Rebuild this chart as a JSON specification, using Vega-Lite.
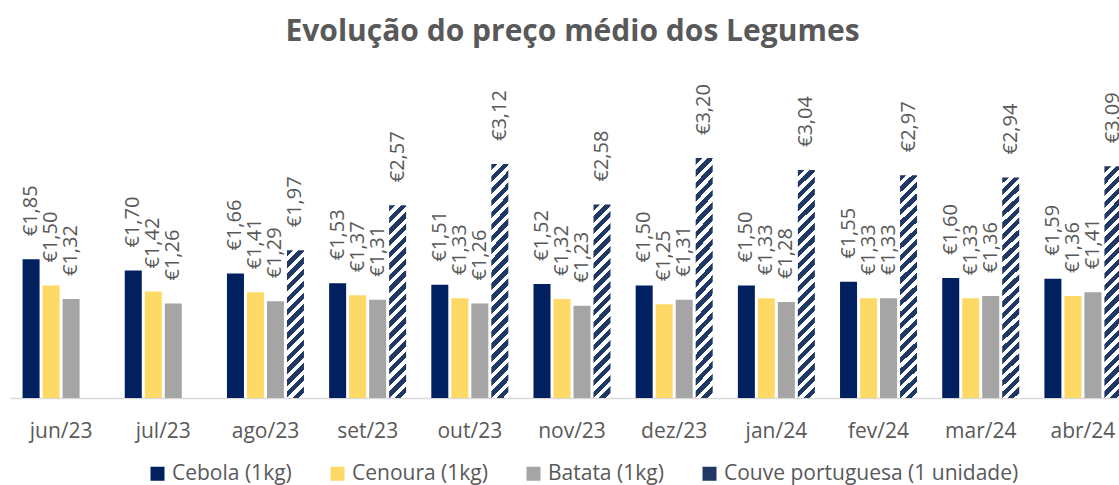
{
  "$schema": "https://vega.github.io/schema/vega-lite/v6.json",
  "autosize": "none",
  "width": 1109,
  "height": 330,
  "padding": {"left": 10, "top": 68, "right": 0, "bottom": 87},
  "title": {
    "text": "Evolução do preço médio dos Legumes",
    "fontSize": 30,
    "fontWeight": "bold",
    "color": "#595959",
    "font": "Open Sans",
    "anchor": "middle",
    "frame": "group",
    "baseline": "alphabetic",
    "offset": -3,
    "dx": 8
  },
  "config": {
    "view": {"stroke": null},
    "font": "Open Sans",
    "locale": {
      "number": {"decimal": ",", "thousands": ".", "grouping": [3], "currency": ["€", ""]}
    }
  },
  "data": {
    "values": [
      {"mes": "jun/23", "produto": "Cebola (1kg)", "preco": 1.85},
      {"mes": "jun/23", "produto": "Cenoura (1kg)", "preco": 1.50},
      {"mes": "jun/23", "produto": "Batata (1kg)", "preco": 1.32},
      {"mes": "jul/23", "produto": "Cebola (1kg)", "preco": 1.70},
      {"mes": "jul/23", "produto": "Cenoura (1kg)", "preco": 1.42},
      {"mes": "jul/23", "produto": "Batata (1kg)", "preco": 1.26},
      {"mes": "ago/23", "produto": "Cebola (1kg)", "preco": 1.66},
      {"mes": "ago/23", "produto": "Cenoura (1kg)", "preco": 1.41},
      {"mes": "ago/23", "produto": "Batata (1kg)", "preco": 1.29},
      {"mes": "ago/23", "produto": "Couve portuguesa (1 unidade)", "preco": 1.97},
      {"mes": "set/23", "produto": "Cebola (1kg)", "preco": 1.53},
      {"mes": "set/23", "produto": "Cenoura (1kg)", "preco": 1.37},
      {"mes": "set/23", "produto": "Batata (1kg)", "preco": 1.31},
      {"mes": "set/23", "produto": "Couve portuguesa (1 unidade)", "preco": 2.57},
      {"mes": "out/23", "produto": "Cebola (1kg)", "preco": 1.51},
      {"mes": "out/23", "produto": "Cenoura (1kg)", "preco": 1.33},
      {"mes": "out/23", "produto": "Batata (1kg)", "preco": 1.26},
      {"mes": "out/23", "produto": "Couve portuguesa (1 unidade)", "preco": 3.12},
      {"mes": "nov/23", "produto": "Cebola (1kg)", "preco": 1.52},
      {"mes": "nov/23", "produto": "Cenoura (1kg)", "preco": 1.32},
      {"mes": "nov/23", "produto": "Batata (1kg)", "preco": 1.23},
      {"mes": "nov/23", "produto": "Couve portuguesa (1 unidade)", "preco": 2.58},
      {"mes": "dez/23", "produto": "Cebola (1kg)", "preco": 1.50},
      {"mes": "dez/23", "produto": "Cenoura (1kg)", "preco": 1.25},
      {"mes": "dez/23", "produto": "Batata (1kg)", "preco": 1.31},
      {"mes": "dez/23", "produto": "Couve portuguesa (1 unidade)", "preco": 3.20},
      {"mes": "jan/24", "produto": "Cebola (1kg)", "preco": 1.50},
      {"mes": "jan/24", "produto": "Cenoura (1kg)", "preco": 1.33},
      {"mes": "jan/24", "produto": "Batata (1kg)", "preco": 1.28},
      {"mes": "jan/24", "produto": "Couve portuguesa (1 unidade)", "preco": 3.04},
      {"mes": "fev/24", "produto": "Cebola (1kg)", "preco": 1.55},
      {"mes": "fev/24", "produto": "Cenoura (1kg)", "preco": 1.33},
      {"mes": "fev/24", "produto": "Batata (1kg)", "preco": 1.33},
      {"mes": "fev/24", "produto": "Couve portuguesa (1 unidade)", "preco": 2.97},
      {"mes": "mar/24", "produto": "Cebola (1kg)", "preco": 1.60},
      {"mes": "mar/24", "produto": "Cenoura (1kg)", "preco": 1.33},
      {"mes": "mar/24", "produto": "Batata (1kg)", "preco": 1.36},
      {"mes": "mar/24", "produto": "Couve portuguesa (1 unidade)", "preco": 2.94},
      {"mes": "abr/24", "produto": "Cebola (1kg)", "preco": 1.59},
      {"mes": "abr/24", "produto": "Cenoura (1kg)", "preco": 1.36},
      {"mes": "abr/24", "produto": "Batata (1kg)", "preco": 1.41},
      {"mes": "abr/24", "produto": "Couve portuguesa (1 unidade)", "preco": 3.09}
    ]
  },
  "encoding": {
    "x": {
      "field": "mes",
      "type": "nominal",
      "sort": null,
      "scale": {"range": [0, 1124], "paddingInner": 0.217, "paddingOuter": 0.1085},
      "axis": {
        "title": null,
        "labelAngle": 0,
        "ticks": false,
        "domainColor": "#D9D9D9",
        "domainWidth": 1.5,
        "labelFontSize": 21,
        "labelColor": "#595959",
        "labelFont": "Open Sans",
        "labelPadding": 22
      }
    },
    "xOffset": {
      "field": "produto",
      "type": "nominal",
      "sort": ["Cebola (1kg)", "Cenoura (1kg)", "Batata (1kg)", "Couve portuguesa (1 unidade)"],
      "scale": {"paddingInner": 0.15, "paddingOuter": 0.075}
    },
    "y": {
      "field": "preco",
      "type": "quantitative",
      "scale": {"domain": [0, 4.4], "nice": false, "zero": true},
      "axis": null
    }
  },
  "layer": [
    {
      "mark": {"type": "bar"},
      "encoding": {
        "fill": {
          "field": "produto",
          "type": "nominal",
          "sort": ["Cebola (1kg)", "Cenoura (1kg)", "Batata (1kg)", "Couve portuguesa (1 unidade)"],
          "scale": {
            "domain": ["Cebola (1kg)", "Cenoura (1kg)", "Batata (1kg)", "Couve portuguesa (1 unidade)"],
            "range": ["#002060", "#FFD966", "#A5A5A5", "#1F3864"]
          },
          "legend": {
            "title": null,
            "orient": "none",
            "legendX": 137,
            "legendY": 395,
            "direction": "horizontal",
            "columns": 4,
            "columnPadding": 35,
            "symbolType": "square",
            "symbolSize": 196,
            "symbolStrokeWidth": 0,
            "labelOffset": 4,
            "labelFontSize": 21,
            "labelFont": "Open Sans",
            "labelColor": "#595959",
            "labelLimit": 500,
            "encode": {
              "symbols": {
                "update": {
                  "fill": {"signal": "datum.value === 'Couve portuguesa (1 unidade)' ? {gradient: 'linear', x1: 0, y1: 0, x2: 1, y2: 1, stops: [{offset: 0, color: '#ffffff'}, {offset: 0.15, color: '#ffffff'}, {offset: 0.15, color: '#1F3864'}, {offset: 0.4, color: '#1F3864'}, {offset: 0.4, color: '#ffffff'}, {offset: 0.6, color: '#ffffff'}, {offset: 0.6, color: '#1F3864'}, {offset: 0.85, color: '#1F3864'}, {offset: 0.85, color: '#ffffff'}, {offset: 1, color: '#ffffff'}]} : scale('fill', datum.value)"}
                }
              }
            }
          },
          "condition": [
            {
              "test": "datum.produto == 'Couve portuguesa (1 unidade)' && datum.mes == 'ago/23'",
              "value": {
                "gradient": "linear", "x1": 0, "y1": 0, "x2": 0.1264, "y2": 1.1,
                "stops": [
                  {"offset": 0, "color": "#1F3864"}, {"offset": 0.0393, "color": "#1F3864"}, {"offset": 0.0393, "color": "#ffffff"}, {"offset": 0.0714, "color": "#ffffff"},
                  {"offset": 0.0714, "color": "#1F3864"}, {"offset": 0.1107, "color": "#1F3864"}, {"offset": 0.1107, "color": "#ffffff"}, {"offset": 0.1429, "color": "#ffffff"},
                  {"offset": 0.1429, "color": "#1F3864"}, {"offset": 0.1821, "color": "#1F3864"}, {"offset": 0.1821, "color": "#ffffff"}, {"offset": 0.2143, "color": "#ffffff"},
                  {"offset": 0.2143, "color": "#1F3864"}, {"offset": 0.2536, "color": "#1F3864"}, {"offset": 0.2536, "color": "#ffffff"}, {"offset": 0.2857, "color": "#ffffff"},
                  {"offset": 0.2857, "color": "#1F3864"}, {"offset": 0.325, "color": "#1F3864"}, {"offset": 0.325, "color": "#ffffff"}, {"offset": 0.3571, "color": "#ffffff"},
                  {"offset": 0.3571, "color": "#1F3864"}, {"offset": 0.3964, "color": "#1F3864"}, {"offset": 0.3964, "color": "#ffffff"}, {"offset": 0.4286, "color": "#ffffff"},
                  {"offset": 0.4286, "color": "#1F3864"}, {"offset": 0.4679, "color": "#1F3864"}, {"offset": 0.4679, "color": "#ffffff"}, {"offset": 0.5, "color": "#ffffff"},
                  {"offset": 0.5, "color": "#1F3864"}, {"offset": 0.5393, "color": "#1F3864"}, {"offset": 0.5393, "color": "#ffffff"}, {"offset": 0.5714, "color": "#ffffff"},
                  {"offset": 0.5714, "color": "#1F3864"}, {"offset": 0.6107, "color": "#1F3864"}, {"offset": 0.6107, "color": "#ffffff"}, {"offset": 0.6429, "color": "#ffffff"},
                  {"offset": 0.6429, "color": "#1F3864"}, {"offset": 0.6821, "color": "#1F3864"}, {"offset": 0.6821, "color": "#ffffff"}, {"offset": 0.7143, "color": "#ffffff"},
                  {"offset": 0.7143, "color": "#1F3864"}, {"offset": 0.7536, "color": "#1F3864"}, {"offset": 0.7536, "color": "#ffffff"}, {"offset": 0.7857, "color": "#ffffff"},
                  {"offset": 0.7857, "color": "#1F3864"}, {"offset": 0.825, "color": "#1F3864"}, {"offset": 0.825, "color": "#ffffff"}, {"offset": 0.8571, "color": "#ffffff"},
                  {"offset": 0.8571, "color": "#1F3864"}, {"offset": 0.8964, "color": "#1F3864"}, {"offset": 0.8964, "color": "#ffffff"}, {"offset": 0.9286, "color": "#ffffff"},
                  {"offset": 0.9286, "color": "#1F3864"}, {"offset": 0.9679, "color": "#1F3864"}, {"offset": 0.9679, "color": "#ffffff"}, {"offset": 1, "color": "#ffffff"}
                ]
              }
            },
            {
              "test": "datum.produto == 'Couve portuguesa (1 unidade)' && (datum.mes == 'set/23' || datum.mes == 'nov/23')",
              "value": {
                "gradient": "linear", "x1": 0, "y1": 0, "x2": 0.0951, "y2": 1.08,
                "stops": [
                  {"offset": 0, "color": "#1F3864"}, {"offset": 0.0306, "color": "#1F3864"}, {"offset": 0.0306, "color": "#ffffff"}, {"offset": 0.0556, "color": "#ffffff"},
                  {"offset": 0.0556, "color": "#1F3864"}, {"offset": 0.0861, "color": "#1F3864"}, {"offset": 0.0861, "color": "#ffffff"}, {"offset": 0.1111, "color": "#ffffff"},
                  {"offset": 0.1111, "color": "#1F3864"}, {"offset": 0.1417, "color": "#1F3864"}, {"offset": 0.1417, "color": "#ffffff"}, {"offset": 0.1667, "color": "#ffffff"},
                  {"offset": 0.1667, "color": "#1F3864"}, {"offset": 0.1972, "color": "#1F3864"}, {"offset": 0.1972, "color": "#ffffff"}, {"offset": 0.2222, "color": "#ffffff"},
                  {"offset": 0.2222, "color": "#1F3864"}, {"offset": 0.2528, "color": "#1F3864"}, {"offset": 0.2528, "color": "#ffffff"}, {"offset": 0.2778, "color": "#ffffff"},
                  {"offset": 0.2778, "color": "#1F3864"}, {"offset": 0.3083, "color": "#1F3864"}, {"offset": 0.3083, "color": "#ffffff"}, {"offset": 0.3333, "color": "#ffffff"},
                  {"offset": 0.3333, "color": "#1F3864"}, {"offset": 0.3639, "color": "#1F3864"}, {"offset": 0.3639, "color": "#ffffff"}, {"offset": 0.3889, "color": "#ffffff"},
                  {"offset": 0.3889, "color": "#1F3864"}, {"offset": 0.4194, "color": "#1F3864"}, {"offset": 0.4194, "color": "#ffffff"}, {"offset": 0.4444, "color": "#ffffff"},
                  {"offset": 0.4444, "color": "#1F3864"}, {"offset": 0.475, "color": "#1F3864"}, {"offset": 0.475, "color": "#ffffff"}, {"offset": 0.5, "color": "#ffffff"},
                  {"offset": 0.5, "color": "#1F3864"}, {"offset": 0.5306, "color": "#1F3864"}, {"offset": 0.5306, "color": "#ffffff"}, {"offset": 0.5556, "color": "#ffffff"},
                  {"offset": 0.5556, "color": "#1F3864"}, {"offset": 0.5861, "color": "#1F3864"}, {"offset": 0.5861, "color": "#ffffff"}, {"offset": 0.6111, "color": "#ffffff"},
                  {"offset": 0.6111, "color": "#1F3864"}, {"offset": 0.6417, "color": "#1F3864"}, {"offset": 0.6417, "color": "#ffffff"}, {"offset": 0.6667, "color": "#ffffff"},
                  {"offset": 0.6667, "color": "#1F3864"}, {"offset": 0.6972, "color": "#1F3864"}, {"offset": 0.6972, "color": "#ffffff"}, {"offset": 0.7222, "color": "#ffffff"},
                  {"offset": 0.7222, "color": "#1F3864"}, {"offset": 0.7528, "color": "#1F3864"}, {"offset": 0.7528, "color": "#ffffff"}, {"offset": 0.7778, "color": "#ffffff"},
                  {"offset": 0.7778, "color": "#1F3864"}, {"offset": 0.8083, "color": "#1F3864"}, {"offset": 0.8083, "color": "#ffffff"}, {"offset": 0.8333, "color": "#ffffff"},
                  {"offset": 0.8333, "color": "#1F3864"}, {"offset": 0.8639, "color": "#1F3864"}, {"offset": 0.8639, "color": "#ffffff"}, {"offset": 0.8889, "color": "#ffffff"},
                  {"offset": 0.8889, "color": "#1F3864"}, {"offset": 0.9194, "color": "#1F3864"}, {"offset": 0.9194, "color": "#ffffff"}, {"offset": 0.9444, "color": "#ffffff"},
                  {"offset": 0.9444, "color": "#1F3864"}, {"offset": 0.975, "color": "#1F3864"}, {"offset": 0.975, "color": "#ffffff"}, {"offset": 1, "color": "#ffffff"}
                ]
              }
            },
            {
              "test": "datum.produto == 'Couve portuguesa (1 unidade)'",
              "value": {
                "gradient": "linear", "x1": 0, "y1": 0, "x2": 0.0789, "y2": 1.068,
                "stops": [
                  {"offset": 0, "color": "#1F3864"}, {"offset": 0.0262, "color": "#1F3864"}, {"offset": 0.0262, "color": "#ffffff"}, {"offset": 0.0476, "color": "#ffffff"},
                  {"offset": 0.0476, "color": "#1F3864"}, {"offset": 0.0738, "color": "#1F3864"}, {"offset": 0.0738, "color": "#ffffff"}, {"offset": 0.0952, "color": "#ffffff"},
                  {"offset": 0.0952, "color": "#1F3864"}, {"offset": 0.1214, "color": "#1F3864"}, {"offset": 0.1214, "color": "#ffffff"}, {"offset": 0.1429, "color": "#ffffff"},
                  {"offset": 0.1429, "color": "#1F3864"}, {"offset": 0.169, "color": "#1F3864"}, {"offset": 0.169, "color": "#ffffff"}, {"offset": 0.1905, "color": "#ffffff"},
                  {"offset": 0.1905, "color": "#1F3864"}, {"offset": 0.2167, "color": "#1F3864"}, {"offset": 0.2167, "color": "#ffffff"}, {"offset": 0.2381, "color": "#ffffff"},
                  {"offset": 0.2381, "color": "#1F3864"}, {"offset": 0.2643, "color": "#1F3864"}, {"offset": 0.2643, "color": "#ffffff"}, {"offset": 0.2857, "color": "#ffffff"},
                  {"offset": 0.2857, "color": "#1F3864"}, {"offset": 0.3119, "color": "#1F3864"}, {"offset": 0.3119, "color": "#ffffff"}, {"offset": 0.3333, "color": "#ffffff"},
                  {"offset": 0.3333, "color": "#1F3864"}, {"offset": 0.3595, "color": "#1F3864"}, {"offset": 0.3595, "color": "#ffffff"}, {"offset": 0.381, "color": "#ffffff"},
                  {"offset": 0.381, "color": "#1F3864"}, {"offset": 0.4071, "color": "#1F3864"}, {"offset": 0.4071, "color": "#ffffff"}, {"offset": 0.4286, "color": "#ffffff"},
                  {"offset": 0.4286, "color": "#1F3864"}, {"offset": 0.4548, "color": "#1F3864"}, {"offset": 0.4548, "color": "#ffffff"}, {"offset": 0.4762, "color": "#ffffff"},
                  {"offset": 0.4762, "color": "#1F3864"}, {"offset": 0.5024, "color": "#1F3864"}, {"offset": 0.5024, "color": "#ffffff"}, {"offset": 0.5238, "color": "#ffffff"},
                  {"offset": 0.5238, "color": "#1F3864"}, {"offset": 0.55, "color": "#1F3864"}, {"offset": 0.55, "color": "#ffffff"}, {"offset": 0.5714, "color": "#ffffff"},
                  {"offset": 0.5714, "color": "#1F3864"}, {"offset": 0.5976, "color": "#1F3864"}, {"offset": 0.5976, "color": "#ffffff"}, {"offset": 0.619, "color": "#ffffff"},
                  {"offset": 0.619, "color": "#1F3864"}, {"offset": 0.6452, "color": "#1F3864"}, {"offset": 0.6452, "color": "#ffffff"}, {"offset": 0.6667, "color": "#ffffff"},
                  {"offset": 0.6667, "color": "#1F3864"}, {"offset": 0.6929, "color": "#1F3864"}, {"offset": 0.6929, "color": "#ffffff"}, {"offset": 0.7143, "color": "#ffffff"},
                  {"offset": 0.7143, "color": "#1F3864"}, {"offset": 0.7405, "color": "#1F3864"}, {"offset": 0.7405, "color": "#ffffff"}, {"offset": 0.7619, "color": "#ffffff"},
                  {"offset": 0.7619, "color": "#1F3864"}, {"offset": 0.7881, "color": "#1F3864"}, {"offset": 0.7881, "color": "#ffffff"}, {"offset": 0.8095, "color": "#ffffff"},
                  {"offset": 0.8095, "color": "#1F3864"}, {"offset": 0.8357, "color": "#1F3864"}, {"offset": 0.8357, "color": "#ffffff"}, {"offset": 0.8571, "color": "#ffffff"},
                  {"offset": 0.8571, "color": "#1F3864"}, {"offset": 0.8833, "color": "#1F3864"}, {"offset": 0.8833, "color": "#ffffff"}, {"offset": 0.9048, "color": "#ffffff"},
                  {"offset": 0.9048, "color": "#1F3864"}, {"offset": 0.931, "color": "#1F3864"}, {"offset": 0.931, "color": "#ffffff"}, {"offset": 0.9524, "color": "#ffffff"},
                  {"offset": 0.9524, "color": "#1F3864"}, {"offset": 0.9786, "color": "#1F3864"}, {"offset": 0.9786, "color": "#ffffff"}, {"offset": 1, "color": "#ffffff"}
                ]
              }
            }
          ]
        }
      }
    },
    {
      "mark": {
        "type": "text",
        "angle": 270,
        "align": "left",
        "baseline": "middle",
        "yOffset": -23,
        "fontSize": 20,
        "font": "Open Sans",
        "color": "#595959"
      },
      "encoding": {
        "text": {"field": "preco", "type": "quantitative", "format": "$.2f"}
      }
    }
  ]
}
